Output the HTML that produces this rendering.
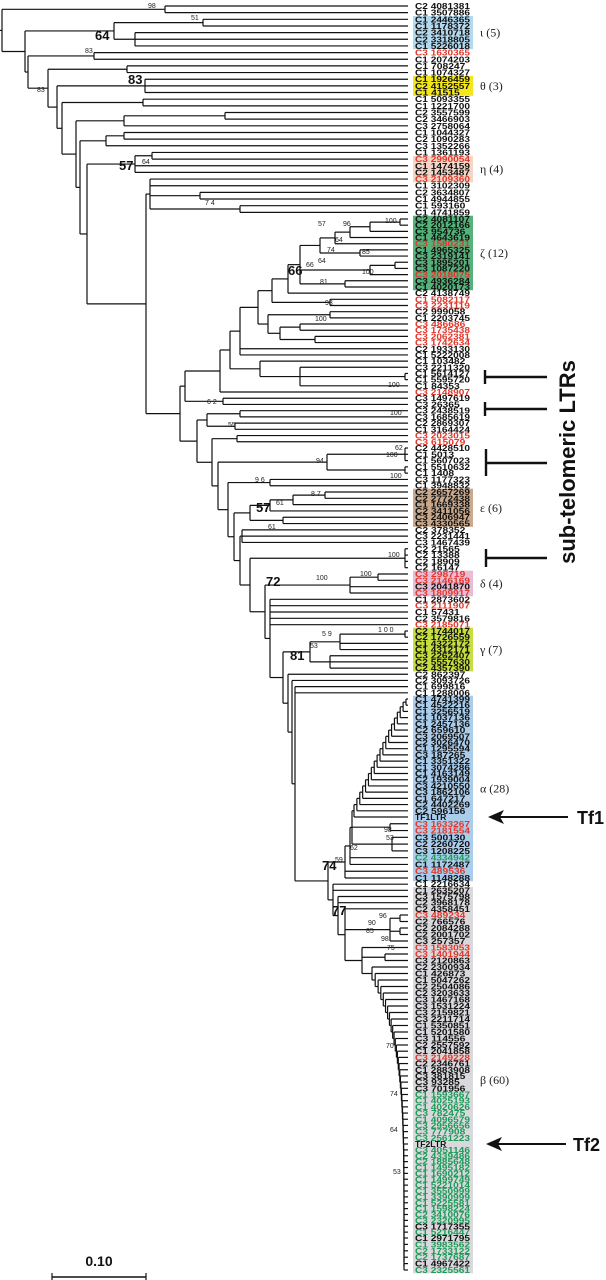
<!DOCTYPE html>
<html><head><meta charset="utf-8"><style>
html,body{margin:0;padding:0;background:#fff;width:606px;height:1280px;overflow:hidden;position:relative}
svg{display:block}
.lbl{font-family:"Liberation Sans",sans-serif;font-size:8.6px;font-weight:bold}
.grp{font-family:"Liberation Serif",serif;font-size:12px;fill:#222}
.bs{font-family:"Liberation Sans",sans-serif;font-size:7px;fill:#222}
.bb{font-family:"Liberation Sans",sans-serif;font-size:13px;font-weight:bold;fill:#111}
</style></head><body>
<svg id="tree" width="606" height="1280" viewBox="0 0 606 1280" xmlns="http://www.w3.org/2000/svg" style="position:absolute;left:0;top:0">
<g id="boxes"></g><g id="branches"></g><g id="labels"></g><g id="annot"></g>
</svg>
<svg style="position:absolute;left:0;top:0" width="606" height="1280">
<g>
<text class="bs" x="148" y="8">98</text><text class="bs" x="191" y="20">51</text>
<text class="bb" x="95" y="40">64</text><text class="bs" x="85" y="53">83</text>
<text class="bb" x="128" y="84">83</text><text class="bs" x="37" y="92">83</text>
<text class="bb" x="119" y="170">57</text><text class="bs" x="142" y="164">64</text>
<text class="bs" x="205" y="205">7 4</text><text class="bs" x="318" y="226">57</text>
<text class="bs" x="343" y="226">96</text><text class="bs" x="385" y="223">100</text>
<text class="bs" x="335" y="242">64</text><text class="bs" x="327" y="252">74</text>
<text class="bs" x="362" y="254">85</text><text class="bs" x="318" y="263">64</text>
<text class="bs" x="306" y="267">66</text><text class="bb" x="288" y="275">66</text>
<text class="bs" x="362" y="274">100</text><text class="bs" x="320" y="284">81</text>
<text class="bs" x="325" y="305">98</text><text class="bs" x="315" y="321">100</text>
<text class="bs" x="388" y="387">100</text><text class="bs" x="207" y="404">6 2</text>
<text class="bs" x="390" y="415">100</text><text class="bs" x="228" y="427">55</text>
<text class="bs" x="395" y="450">62</text><text class="bs" x="386" y="457">100</text>
<text class="bs" x="316" y="463">94</text><text class="bs" x="390" y="478">100</text>
<text class="bs" x="255" y="482">9 6</text><text class="bs" x="311" y="496">8 7</text>
<text class="bs" x="276" y="505">61</text><text class="bb" x="256" y="512">57</text>
<text class="bs" x="268" y="529">61</text><text class="bs" x="388" y="557">100</text>
<text class="bs" x="316" y="580">100</text><text class="bs" x="360" y="576">100</text>
<text class="bb" x="266" y="586">72</text><text class="bs" x="378" y="632">1 0 0</text>
<text class="bs" x="322" y="636">5 9</text><text class="bb" x="290" y="660">81</text>
<text class="bs" x="310" y="648">53</text><text class="bs" x="384" y="832">98</text>
<text class="bs" x="386" y="840">53</text><text class="bs" x="350" y="850">62</text>
<text class="bs" x="335" y="862">59</text><text class="bb" x="322" y="870">74</text>
<text class="bb" x="332" y="915">77</text><text class="bs" x="368" y="925">90</text>
<text class="bs" x="379" y="918">96</text><text class="bs" x="366" y="933">85</text>
<text class="bs" x="381" y="941">98</text><text class="bs" x="387" y="950">75</text>
<text class="bs" x="386" y="1048">70</text><text class="bs" x="390" y="1096">74</text>
<text class="bs" x="390" y="1132">64</text><text class="bs" x="393" y="1174">53</text>
</g>
<g stroke="#111" stroke-width="2.4">
<line x1="485" y1="370" x2="485" y2="384"/><line x1="485" y1="377" x2="547" y2="377"/>
<line x1="485" y1="402" x2="485" y2="416"/><line x1="485" y1="409" x2="547" y2="409"/>
<line x1="486" y1="449" x2="486" y2="476"/><line x1="486" y1="463" x2="547" y2="463"/>
<line x1="486" y1="549" x2="486" y2="567"/><line x1="486" y1="558" x2="547" y2="558"/>
</g>
<text x="0" y="0" transform="translate(575,462) rotate(-90)" text-anchor="middle" style="font-family:'Liberation Sans',sans-serif;font-size:22px;font-weight:bold" fill="#111">sub-telomeric LTRs</text>
<g>
<line x1="496" y1="817" x2="568" y2="817" stroke="#111" stroke-width="2"/>
<polygon points="488,817 504,810 500,817 504,824" fill="#111"/>
<text x="577" y="824" style="font-family:'Liberation Sans',sans-serif;font-size:18px;font-weight:bold" fill="#111">Tf1</text>
</g>
<g>
<line x1="494" y1="1144" x2="566" y2="1144" stroke="#111" stroke-width="2"/>
<polygon points="486,1144 502,1137 498,1144 502,1151" fill="#111"/>
<text x="573" y="1151" style="font-family:'Liberation Sans',sans-serif;font-size:18px;font-weight:bold" fill="#111">Tf2</text>
</g>
<g>
<line x1="52" y1="1277" x2="146" y2="1277" stroke="#111" stroke-width="1.5"/>
<line x1="52" y1="1273" x2="52" y2="1280" stroke="#111" stroke-width="1.2"/>
<line x1="146" y1="1273" x2="146" y2="1280" stroke="#111" stroke-width="1.2"/>
<text x="99" y="1266" text-anchor="middle" style="font-family:'Liberation Sans',sans-serif;font-size:14px;font-weight:bold" fill="#111">0.10</text>
</g>
</svg>
<script>
var leafLabels = [
'C2 4081381','C1 3507886','C1 2446365','C1 1178372','C2 3410718','C2 3318805','C1 5226018','C3 1630365','C1 2074203','C1 708247','C1 1074327','C1 1926459','C2 4152557','C1 41515','C1 5093355','C1 1221700','C2 3557599','C2 3466903','C3 2758064','C1 1044327','C2 1090283','C3 1352266','C1 1361193','C3 2990054','C1 1474159','C2 1453487','C3 2109360','C1 3102309','C2 3634807','C1 4944855','C1 593160','C1 4741859',
'C2 4081107','C2 2012166','C3 954736','C1 4643619','C3 1580231','C1 4965325','C3 2319141','C3 1895201','C3 1087220','C3 2018075','C3 4936284','C1 4020173',
'C2 4138749','C1 5082117','C3 2231119','C2 999058','C1 2203745','C3 486686','C3 1735438','C3 2062381','C3 1742634','C2 1933130','C1 5222008',
'C1 103482','C3 2211320','C1 5614127','C1 5595720','C1 84353','C3 2148907','C3 1497619','C3 26365',
'C3 2438519','C3 1685619','C2 2869307','C1 3164424','C3 2023015','C3 615079',
'C2 4428510','C1 5013','C1 5607023','C1 5510632','C1 1408','C3 1177323','C1 3948832',
'C2 2657269','C2 2772438','C1 1669338','C2 3411056','C3 2406947','C3 4330565',
'C2 378352','C3 2231441','C3 1467439','C2 21565','C2 13388','C2 18909','C2 16147',
'C3 298719','C3 2146169','C3 2041870','C3 1809917',
'C1 2873602','C3 2111907','C1 57431','C2 3579816','C3 2185071',
'C2 1744017','C2 1726559','C1 4322172','C1 4312171','C3 2262407','C2 5557630','C2 4357390',
'C2 862397','C2 3093726','C1 699816','C1 1288006',
'C1 4741399','C1 4522216','C1 3256519','C1 1037136','C1 2457136','C2 659610','C3 2069507','C2 3026470','C1 1295594','C3 187265','C1 3351322','C1 3074286','C1 4163149','C2 1939004','C3 4210550','C3 1862106','C1 647217','C2 4402269','C2 596156','TF1LTR','C3 1633267','C3 2181554','C3 500130','C2 2260720','C3 1208225','C2 4334942','C1 1172487','C3 489536','C1 1148288',
'C1 2216634',
'C1 2635207','C3 1575798','C2 3968178','C2 4358451','C3 489234','C2 766576','C2 2084288','C2 2001702','C3 257357','C3 1583053','C3 1401944','C3 2120863','C2 2300934','C1 426873','C1 5047262','C2 2504086','C2 3203633','C3 1467168','C3 1531224','C3 2159821','C3 2211714','C1 5350851','C1 5201580','C3 114556','C2 2557592','C1 2041858','C3 2149228','C2 2346761','C1 2883908','C3 381815','C3 93285','C3 701956',
'C1 1593667','C1 4025193','C1 4020626','C3 782475','C1 4096579','C3 2956656','C3 777908','C3 2561223','TF2LTR',
'C3 4051146','C2 4339486','C2 1885648','C1 1495182','C1 1690212','C1 1499749','C1 5221014','C1 3550999','C1 3390999','C1 5225581','C1 1598224','C2 3410076','C3 2320995','C3 1717355','C1 5216447','C1 2971795','C1 3983562','C2 1733122','C2 1737687','C1 4967422','C3 2325561'
];
var redLabels = ['C3 1630365','C3 2990054','C3 2109360','C3 1580231','C3 2018075','C1 5082117','C3 2231119','C3 486686','C3 1735438','C3 2062381','C3 1742634','C3 2148907','C3 2023015','C3 615079','C3 298719','C3 2146169','C3 1809917','C3 2111907','C3 2185071','C3 1633267','C3 2181554','C3 489536','C3 489234','C3 1583053','C3 1401944','C3 2149228'];
var greenLabels = ['C2 4334942','C1 1593667','C1 4025193','C1 4020626','C3 782475','C1 4096579','C3 2956656','C3 777908','C3 2561223','C3 4051146','C2 4339486','C2 1885648','C1 1495182','C1 1690212','C1 1499749','C1 5221014','C1 3550999','C1 3390999','C1 5225581','C1 1598224','C2 3410076','C3 2320995','C1 5216447','C1 3983562','C2 1733122','C2 1737687','C3 2325561'];
var anchorLabels = ['C2 4081381','C2 4081107','C3 2148907','C2 4428510','C2 2657269','C3 298719','C2 1744017','C1 4741399','TF1LTR','C1 1148288','C3 489234','C2 2557592','TF2LTR','C1 2971795','C3 2325561'];
var anchorY = [6,219,392,448,492,574,631,699,817,878,915,1045,1144,1238,1270];
var groupNames = ['\u03B9 (5)','\u03B8 (3)','\u03B7 (4)','\u03B6 (12)','\u03B5 (6)','\u03B4 (4)','\u03B3 (7)','\u03B1 (28)','\u03B2 (60)'];
var groupStart = ['C1 2446365','C1 1926459','C3 2990054','C2 4081107','C2 2657269','C3 298719','C2 1744017','C1 4741399','C1 2635207'];
var groupEnd = ['C1 5226018','C1 41515','C3 2109360','C1 4020173','C3 4330565','C3 1809917','C2 4357390','C1 1148288','C3 2325561'];
var groupColors = ['#b3d9ef','#f3e61a','#f6d5c6','#55b27a','#c9a88c','#e9bcd6','#c6de40','#aacdec','#d9d9dd'];

var SVGNS='http://www.w3.org/2000/svg';
function mkEl(tag,attrs,parent){var e=document.createElementNS(SVGNS,tag);for(var k in attrs){e.setAttribute(k,String(attrs[k]));}parent.appendChild(e);return e;}
var leafY=[];
var aIdx=anchorLabels.map(function(l){return leafLabels.indexOf(l);});
for(var i=0;i<leafLabels.length;i++){
  var k=0;while(k<aIdx.length-2&&i>aIdx[k+1])k++;
  var i0=aIdx[k],i1=aIdx[k+1];
  leafY.push(anchorY[k]+(anchorY[k+1]-anchorY[k])*(i-i0)/(i1-i0));
}

var _=null;
function ND(x){var kids=Array.prototype.slice.call(arguments,1);return {x:x,kids:kids};}
function combUp(n,xTop,xBot){var node=ND(xTop,_,_);for(var k=2;k<n;k++){node=ND(xTop-(xTop-xBot)*(k-1)/(n-2),node,_);}return node;}
function combDown(n,xS,xE){var node=ND(xE,_,_);for(var k=n-3;k>=0;k--){var t=k/(n-2);node=ND(xS+(xE-xS)*(1-Math.pow(1-t,5)),_,node);}return node;}

var ZETA=ND(300, ND(320, ND(335, ND(350, ND(370, ND(400,_,_), _), _), _), ND(360,_,_)), ND(370, ND(395,_,_), _), ND(345,_,_));
var G1=ND(258, ND(272, ND(288,ZETA,_), ND(330,_,_)), ND(268, ND(330,_,_), ND(280, ND(300,_,_), ND(315,_,_))));
var G2=ND(240,G1,_,_);
var SUB1=ND(260,_,ND(300,_,ND(405,_,_),_));
var Z185=ND(185, ND(220, ND(230,G2,SUB1), _), ND(223,_,_));
var ALPHA=ND(345, ND(350, ND(352, combUp(20,406,354), ND(390,_,_), ND(392,_,_,_)), _, _), _, _);
var CB=combDown(50,372,404);
var BETA=ND(333,_,_, ND(338,_,_, ND(345,_, ND(390,ND(400,_,_),ND(400,_,_),_), ND(362,_,ND(385,_,_),CB))));
var AB=ND(328,ALPHA,BETA);

var nGam=ND(283, ND(310, ND(340, ND(405,_,_), _, _), ND(330,_,_,_)), ND(288,_, ND(292,_, ND(295,_,_,AB))));
var n270=ND(270,_,_,_,_,_,nGam);
var n265=ND(265, ND(350, ND(378,_,_), _, _), n270);
var n250=ND(250, ND(405,_,_,_,_), n265);
var n240=ND(240, ND(242,_,_,_), n250);
var n234=ND(234, ND(250, ND(270, ND(293, ND(325,_,_), _), _), ND(283,_,_)), n240);
var n228=ND(228, ND(270,_,_), n234);
var n218=ND(218, ND(327, ND(405,_,_,_), ND(405,_,_)), n228);
var n212=ND(212, ND(237,_,_), n218);
var LOWER=ND(197, ND(207, ND(240,_,_), ND(235,_,_)), n212);

var r146=ND(146, ND(150,_,_,ND(200,_,_),ND(240,_,_)), ND(180,Z185,LOWER));
var r87=ND(87, ND(135,ND(152,_,_),_,_), r146);
var r80=ND(80, ND(106,ND(124,_,_),_), r87);
var r76=ND(76, ND(124,ND(225,_,_),_), r80);
var r62=ND(62, ND(143,_,_), r76);
var r57=ND(57, ND(145,_,_,_), r62);
var r48=ND(48, ND(127,_,_), r57);
var r28=ND(28, ND(94,_,_), r48);
var r25=ND(25, ND(114, ND(203,_,_), ND(135,_,_,_)), r28);
var ROOT=ND(2, ND(165,_,_), r25);

var gB=document.getElementById('branches');
var leafIdx=0;
function seg(x1,y1,x2,y2,nm){
  var l=mkEl('line',{x1:x1,y1:y1,x2:x2,y2:y2,stroke:'#111','stroke-width':1.2},gB);
  
  
}
function lay(n){
  if(n===null||n===undefined){var i=leafIdx++;var yy=leafY[i];if(yy===undefined)yy=1270;return {x:408,y:yy};}
  var ch=n.kids.map(lay);
  var y=(ch[0].y+ch[ch.length-1].y)/2;
  seg(n.x,ch[0].y,n.x,ch[ch.length-1].y,'node-vertical');
  for(var c=0;c<ch.length;c++){seg(n.x,ch[c].y,ch[c].x,ch[c].y,'branch');}
  return {x:n.x,y:y};
}
var rr=lay(ROOT);
seg(0,rr.y,2,rr.y,'root-branch');

var gX=document.getElementById('boxes');
var gA=document.getElementById('annot');
groupNames.forEach(function(nm,g){
  var a=leafLabels.indexOf(groupStart[g]),b=leafLabels.indexOf(groupEnd[g]);
  var y0=leafY[a]-3.3,y1=leafY[b]+3.3;
  var rc=mkEl('rect',{x:413,y:y0,width:60,height:y1-y0,fill:groupColors[g]},gX);
  
  
  var t=mkEl('text',{x:480,y:(y0+y1)/2+4,'class':'grp'},gA);
  t.textContent=nm;
  
  
});
var gL=document.getElementById('labels');
leafLabels.forEach(function(lb,i){
  var col=redLabels.indexOf(lb)>=0?'#e2372b':(greenLabels.indexOf(lb)>=0?'#1e9a58':'#111');
  var t=mkEl('text',{x:415,y:leafY[i]+3,'class':'lbl',fill:col},gL);
  if(lb.indexOf('LTR')<0){t.setAttribute('textLength',Math.min(55,lb.length*5.6));t.setAttribute('lengthAdjust','spacingAndGlyphs');}
  t.textContent=lb;
  
  
});
</script>
</body></html>
